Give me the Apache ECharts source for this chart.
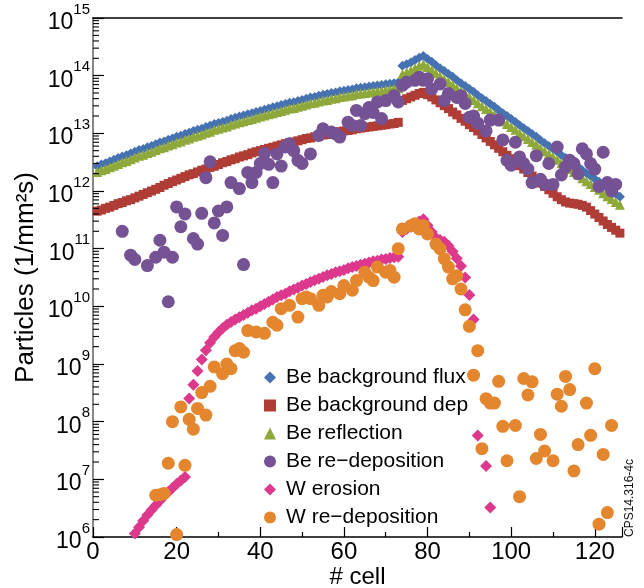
<!DOCTYPE html>
<html>
<head>
<meta charset="utf-8">
<script src="https://cdn.jsdelivr.net/npm/echarts@6/dist/echarts.min.js"></script>
<style>
html, body { margin: 0; padding: 0; background: #fff; }
#chart { width: 644px; height: 588px; }
</style>
</head>
<body>
<div id="chart"></div>
<script>
var names = ['Be background flux', 'Be background dep', 'Be reflection', 'Be re\u2212deposition', 'W erosion', 'W re\u2212deposition'];

// cells 1..126
var blueVals = [2.69e12,2.88e12,3.02e12,3.24e12,3.47e12,3.72e12,3.98e12,4.17e12,4.47e12,4.79e12,
  5.13e12,5.37e12,5.75e12,6.03e12,6.46e12,6.92e12,7.24e12,7.76e12,8.13e12,8.71e12,
  9.12e12,9.77e12,1.02e13,1.10e13,1.15e13,1.20e13,1.29e13,1.35e13,1.45e13,1.51e13,
  1.58e13,1.66e13,1.78e13,1.86e13,1.95e13,2.04e13,2.14e13,2.24e13,2.34e13,2.45e13,
  2.57e13,2.69e13,2.82e13,2.95e13,3.09e13,3.24e13,3.39e13,3.47e13,3.63e13,3.80e13,
  3.98e13,4.17e13,4.27e13,4.47e13,4.68e13,4.79e13,5.01e13,5.13e13,5.37e13,5.50e13,
  5.62e13,5.75e13,6.03e13,6.17e13,6.31e13,6.46e13,6.61e13,6.76e13,6.92e13,7.08e13,
  7.24e13,7.41e13,7.59e13,
  1.48e14,1.58e14,1.70e14,1.86e14,2.04e14,2.19e14,
  1.95e14,1.74e14,1.51e14,1.35e14,1.20e14,1.07e14,9.55e13,8.32e13,7.41e13,6.61e13,
  5.89e13,5.25e13,4.57e13,4.07e13,3.63e13,3.24e13,2.88e13,2.51e13,2.24e13,2.00e13,
  1.78e13,1.58e13,1.38e13,1.23e13,1.10e13,9.77e12,8.71e12,7.59e12,6.76e12,6.03e12,
  5.37e12,4.79e12,4.17e12,3.72e12,3.31e12,2.95e12,2.63e12,2.29e12,2.04e12,1.82e12,
  1.62e12,1.45e12,1.26e12,1.12e12,1.00e12,8.91e11,7.94e11];

var redVals = [4.47e11,4.68e11,5.01e11,5.25e11,5.62e11,6.03e11,6.31e11,6.76e11,7.08e11,7.59e11,
  8.13e11,8.71e11,9.33e11,1.00e12,1.07e12,1.15e12,1.26e12,1.35e12,1.45e12,1.55e12,
  1.66e12,1.78e12,1.91e12,2.00e12,2.14e12,2.29e12,2.40e12,2.57e12,2.69e12,2.88e12,
  3.09e12,3.24e12,3.47e12,3.63e12,3.89e12,4.07e12,4.27e12,4.57e12,4.79e12,5.01e12,
  5.25e12,5.50e12,5.75e12,6.03e12,6.31e12,6.61e12,6.92e12,7.08e12,7.41e12,7.76e12,
  8.13e12,8.32e12,8.71e12,8.91e12,9.33e12,9.55e12,1.00e13,1.02e13,1.07e13,1.10e13,
  1.12e13,1.15e13,1.20e13,1.23e13,1.26e13,1.29e13,1.32e13,1.35e13,1.38e13,1.41e13,
  1.45e13,1.48e13,1.55e13,
  3.72e13,3.98e13,4.27e13,4.57e13,4.90e13,5.13e13,
  4.68e13,4.27e13,3.80e13,3.39e13,3.02e13,2.69e13,2.34e13,2.09e13,1.82e13,1.62e13,
  1.41e13,1.26e13,1.10e13,9.55e12,8.32e12,7.24e12,6.31e12,5.50e12,4.79e12,4.17e12,
  3.63e12,3.16e12,2.75e12,2.40e12,2.09e12,1.82e12,1.58e12,1.38e12,1.20e12,1.05e12,
  9.12e11,7.94e11,7.08e11,6.46e11,6.17e11,6.03e11,5.89e11,5.62e11,5.25e11,4.57e11,
  3.98e11,3.47e11,3.02e11,2.63e11,2.34e11,2.09e11,1.86e11];

var greenVals = [2.14e12,2.29e12,2.40e12,2.57e12,2.75e12,2.95e12,3.16e12,3.31e12,3.55e12,3.80e12,
  4.07e12,4.27e12,4.57e12,4.79e12,5.13e12,5.50e12,5.75e12,6.17e12,6.46e12,6.92e12,
  7.24e12,7.76e12,8.13e12,8.71e12,9.12e12,9.55e12,1.02e13,1.07e13,1.15e13,1.20e13,
  1.26e13,1.32e13,1.41e13,1.48e13,1.55e13,1.62e13,1.70e13,1.78e13,1.86e13,1.95e13,
  2.04e13,2.14e13,2.24e13,2.34e13,2.45e13,2.57e13,2.69e13,2.75e13,2.88e13,3.02e13,
  3.16e13,3.31e13,3.39e13,3.55e13,3.72e13,3.80e13,3.98e13,4.07e13,4.27e13,4.37e13,
  4.47e13,4.57e13,4.79e13,4.90e13,5.01e13,5.13e13,5.25e13,5.37e13,5.50e13,5.62e13,
  5.75e13,5.89e13,6.03e13,
  1.07e14,1.15e14,1.23e14,1.35e14,1.48e14,1.58e14,
  1.41e14,1.26e14,1.10e14,9.77e13,8.71e13,7.76e13,6.92e13,6.03e13,5.37e13,4.79e13,
  4.27e13,3.80e13,3.31e13,2.95e13,2.63e13,2.34e13,2.09e13,1.82e13,1.62e13,1.45e13,
  1.29e13,1.15e13,1.00e13,8.91e12,7.94e12,7.08e12,6.31e12,5.50e12,4.90e12,4.37e12,
  3.89e12,3.47e12,3.02e12,2.69e12,2.40e12,2.14e12,1.91e12,1.66e12,1.48e12,1.32e12,
  1.17e12,1.05e12,9.12e11,8.13e11,7.24e11,6.46e11,5.75e11];

var purpleCells = [7,9,10,13,15,16,17,18,19,20,21,22,24,25,26,27,28,29,30,31,32,33,35,36,37,38,39,40,41,42,
  43,44,45,46,47,48,49,50,52,54,55,57,58,59,61,62,63,64,65,66,67,68,69,70,72,73,74,75,77,78,
  79,80,81,83,84,85,87,88,89,90,91,92,94,95,97,98,99,100,101,102,103,104,105,106,107,108,109,110,111,112,
  113,114,115,116,117,118,119,120,121,122,123,124,125];
var purpleVals = [2.0e11,7.7e10,6.5e10,5.1e10,7.1e10,1.4e11,8.7e10,1.2e10,7.1e10,5.3e11,
  2.4e11,4.0e11,1.5e11,1.2e11,4.1e11,1.7e12,3.2e12,2.8e11,4.5e11,1.7e11,
  5.3e11,1.4e12,1.1e12,5.3e10,2.1e12,1.4e12,2.1e12,3.0e12,4.5e12,2.9e12,
  1.4e12,4.4e12,2.7e12,5.8e12,6.6e12,5.0e12,3.4e12,3.0e12,4.4e12,9.2e12,
  1.2e13,1.05e13,9.8e12,8.6e12,1.56e13,1.37e13,2.5e13,1.37e13,2.2e13,2.8e13,
  2.3e13,3.5e13,1.8e13,3.7e13,4.5e13,3.5e13,6.8e13,7.7e13,8.3e13,9.4e13,
  8.3e13,8.8e13,5.9e13,7.2e13,3.7e13,4.9e13,4.2e13,4.5e13,3.3e13,1.9e13,
  2.0e13,1.5e13,1.1e13,1.7e13,1.7e13,7.7e12,3.4e12,2.8e12,7.0e12,3.9e12,
  3.0e12,2.4e12,1.4e12,4.1e12,1.6e12,1.3e12,3.0e12,1.3e12,5.8e12,1.9e12,
  2.6e12,3.4e12,3.0e12,2.0e12,5.4e12,4.4e12,3.0e12,2.4e12,1.2e12,4.7e12,
  1.4e12,1.0e12,1.3e12];

// cells 10..95, no mark at 93
var pinkFirstCell = 10;
var pinkVals = [1.15e6,1.48e6,1.91e6,2.40e6,2.95e6,3.55e6,4.27e6,5.13e6,6.03e6,7.08e6,
  8.32e6,9.55e6,1.10e7,2.51e8,4.37e8,7.59e8,1.20e9,1.74e9,2.34e9,2.95e9,
  3.55e9,4.17e9,4.79e9,5.37e9,5.89e9,6.46e9,7.08e9,7.76e9,8.51e9,9.12e9,
  1.00e10,1.10e10,1.20e10,1.32e10,1.45e10,1.55e10,1.66e10,1.82e10,1.95e10,2.09e10,
  2.29e10,2.45e10,2.63e10,2.82e10,3.02e10,3.24e10,3.47e10,3.63e10,3.89e10,4.07e10,
  4.27e10,4.57e10,4.79e10,5.01e10,5.25e10,5.50e10,5.75e10,6.03e10,6.17e10,6.46e10,
  6.61e10,6.92e10,7.08e10,7.24e10,1.95e11,2.19e11,2.40e11,2.69e11,2.95e11,3.24e11,
  2.51e11,1.95e11,1.55e11,1.41e11,1.32e11,1.12e11,8.91e10,6.76e10,5.01e10,3.16e10,
  1.58e10,5.89e9,5.75e7,null,1.70e7,3.24e6];

var orangeCells = [15,16,17,18,19,20,21,22,23,24,25,26,27,28,29,31,32,33,34,35,36,37,
  39,41,43,44,45,47,49,50,51,52,54,55,56,57,59,60,62,63,65,66,67,68,70,71,72,73,74,76,77,78,
  79,80,82,83,84,85,86,87,88,89,90,91,92,93,94,95,96,97,98,99,
  101,102,103,104,105,106,107,108,110,111,112,113,114,115,116,118,119,120,121,122,123,124];
var orangeVals = [5.3e6,5.4e6,5.7e6,1.9e7,1.0e8,1.1e6,1.8e8,1.75e7,1.1e8,7.4e7,1.7e8,3.2e8,1.3e8,4.1e8,8.9e8,
  6.8e8,1.0e9,8.3e8,1.7e9,1.85e9,1.6e9,3.8e9,
  3.6e9,3.4e9,5.3e9,4.7e9,9.1e9,1.04e10,6.5e9,1.36e10,1.45e10,1.36e10,
  1.04e10,1.55e10,1.45e10,1.8e10,1.66e10,2.3e10,1.9e10,2.8e10,3.9e10,3.2e10,
  2.8e10,4.8e10,3.9e10,4.2e10,3.2e10,1.0e11,2.2e11,2.5e11,2.7e11,2.2e11,
  2.5e11,1.8e11,1.2e11,1.0e11,6.7e10,4.8e10,3.0e10,3.4e10,2.0e10,8.7e9,
  4.5e9,6.4e8,1.7e9,3.4e7,2.5e8,2.1e8,2.1e8,5.0e8,8.3e7,2.1e7,
  8.6e7,5.0e6,5.6e8,2.9e8,4.9e8,2.3e7,6.0e7,3.1e7,2.1e7,3.0e8,
  1.85e8,6.1e8,3.6e8,1.4e7,4.0e7,2.1e8,5.8e7,8.3e8,1.67e6,2.7e7,
  2.65e6,8.6e7];

var yDecades = [6, 7, 8, 9, 10, 11, 12, 13, 14];
var yMinorSteps = [2, 3, 4, 5, 6, 7, 8, 9];

var FONT = '"Liberation Sans", Arial, Helvetica, sans-serif';
var colors = ['#4672b2', '#b03c36', '#8fa83b', '#755294', '#dc388c', '#e3862e'];

function fromFirst(vals, first) {
  return vals.map(function (v, i) { return [i + first, v]; });
}
function zipCells(cells, vals) {
  return cells.map(function (c, i) { return [c, vals[i]]; });
}

var yMinor = [];
yDecades.forEach(function (d) {
  yMinorSteps.forEach(function (m) { yMinor.push([0, m * Math.pow(10, d)]); });
});

var myChart = echarts.init(document.getElementById('chart'));

function dots(i, symbol, size, data) {
  return {
    name: names[i],
    type: 'scatter',
    symbol: symbol,
    symbolSize: size,
    itemStyle: { color: colors[i], opacity: 1 },
    emphasis: { disabled: true },
    data: data
  };
}

var option = {
  animation: false,
  backgroundColor: '#fff',
  textStyle: { fontFamily: FONT },
  grid: { left: 93, right: 22, top: 18, bottom: 51, containLabel: false, outerBoundsMode: 'none' },
  legend: {
    orient: 'vertical',
    left: 259,
    top: 362,
    itemWidth: 12,
    itemHeight: 12,
    itemGap: 7,
    data: names,
    textStyle: { fontSize: 21, lineHeight: 21, color: '#000', fontFamily: FONT, padding: [0, 0, 0, 5] }
  },
  graphic: [{
    type: 'text',
    x: 630,
    y: 498,
    rotation: Math.PI / 2,
    style: { text: 'CPS14.316-4c', fontSize: 12, fill: '#111', align: 'center', verticalAlign: 'middle', fontFamily: FONT }
  }],
  xAxis: [{
    type: 'value',
    min: 0,
    max: 126.5,
    interval: 20,
    name: '# cell',
    nameLocation: 'middle',
    nameGap: 28,
    nameMoveOverlap: false,
    nameTextStyle: { fontSize: 24, color: '#000', fontFamily: FONT },
    axisLine: { lineStyle: { color: '#000', width: 1.5 } },
    axisTick: { inside: true, length: 10, lineStyle: { color: '#000', width: 1.2 } },
    minorTick: { show: true, splitNumber: 2, length: 5, lineStyle: { color: '#000', width: 1.2 } },
    axisLabel: { fontSize: 24, color: '#000', margin: 3, showMaxLabel: false, fontFamily: FONT },
    splitLine: { show: false }
  }, {
    type: 'value',
    position: 'top',
    min: 0,
    max: 126.5,
    axisLine: { lineStyle: { color: '#000', width: 1.5 } },
    axisTick: { show: false },
    axisLabel: { show: false },
    splitLine: { show: false }
  }],
  yAxis: [{
    type: 'log',
    logBase: 10,
    min: 1e6,
    max: 1e15,
    name: 'Particles (1/mm\u00b2s)',
    nameLocation: 'middle',
    nameGap: 54,
    nameMoveOverlap: false,
    nameTextStyle: { fontSize: 26, color: '#000', fontFamily: FONT },
    axisLine: { show: true, lineStyle: { color: '#000', width: 1.5 } },
    axisTick: { inside: true, length: 11, lineStyle: { color: '#000', width: 1.2 } },
    axisLabel: {
      margin: 3,
      formatter: function (v) {
        return '{b|10}{s|' + Math.round(Math.log10(v)) + '}';
      },
      rich: {
        b: { fontSize: 23, lineHeight: 32, color: '#000', fontFamily: FONT, verticalAlign: 'bottom' },
        s: { fontSize: 15, lineHeight: 14, color: '#000', fontFamily: FONT, verticalAlign: 'top' }
      }
    },
    splitLine: { show: false }
  }, {
    type: 'log',
    logBase: 10,
    position: 'right',
    min: 1e6,
    max: 1e15,
    axisLine: { show: true, lineStyle: { color: '#888', width: 2 } },
    axisTick: { show: false },
    axisLabel: { show: false },
    splitLine: { show: false }
  }],
  series: [
    dots(0, 'diamond', 10, fromFirst(blueVals, 1)),
    dots(1, 'rect', 9, fromFirst(redVals, 1)),
    dots(2, 'triangle', 10, fromFirst(greenVals, 1)),
    dots(3, 'circle', 13, zipCells(purpleCells, purpleVals)),
    dots(4, 'diamond', 12, fromFirst(pinkVals, pinkFirstCell)),
    dots(5, 'circle', 13, zipCells(orangeCells, orangeVals)),
    {
      type: 'custom',
      silent: true,
      clip: false,
      z: 5,
      data: yMinor,
      renderItem: function (params, api) {
        var p = api.coord([0, api.value(1)]);
        return {
          type: 'line',
          shape: { x1: p[0], y1: p[1], x2: p[0] + 6, y2: p[1] },
          style: { stroke: '#000', lineWidth: 1.1 }
        };
      }
    }
  ]
};

myChart.setOption(option);
</script>
</body>
</html>
